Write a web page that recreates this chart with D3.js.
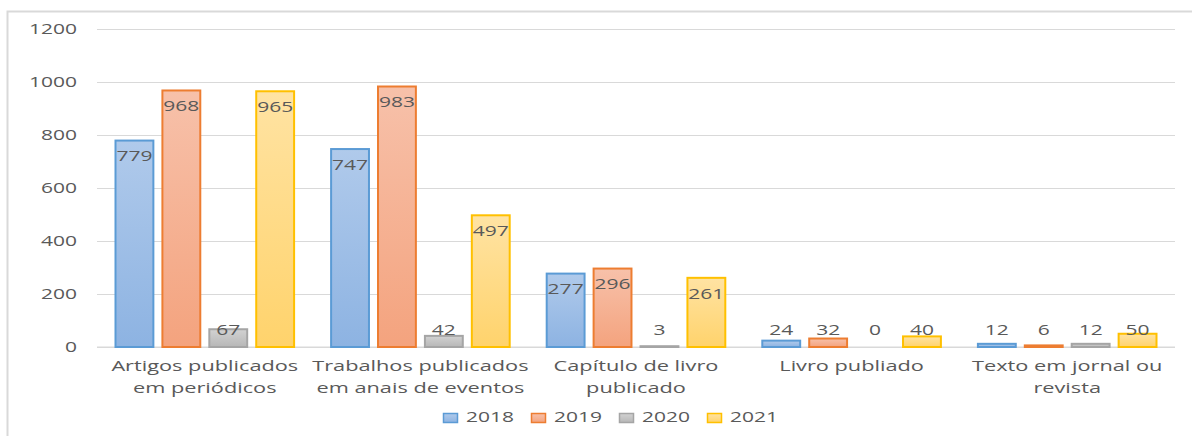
<!DOCTYPE html>
<html>
<head>
<meta charset="utf-8">
<script src="https://cdn.jsdelivr.net/npm/d3@7"></script>
<style>
  body { margin: 0; background: #fff; }
  svg { display: block; }
  text { font-family: "Open Sans", sans-serif; fill: #595959; }
</style>
</head>
<body>
<script>
// data
let categories = ["Artigos publicados em periódicos", "Trabalhos publicados em anais de eventos",
                  "Capítulo de livro publicado", "Livro publiado", "Texto em jornal ou revista"]
let labelLines = [["Artigos publicados", "em periódicos"], ["Trabalhos publicados", "em anais de eventos"],
                  ["Capítulo de livro", "publicado"], ["Livro publiado"], ["Texto em jornal ou", "revista"]]
let years = ["2018", "2019", "2020", "2021"]
let v2018 = [779, 747, 277, 24, 12]
let v2019 = [968, 983, 296, 32, 6]
let v2020 = [67, 42, 3, 0, 12]
let v2021 = [965, 497, 261, 40, 50]
let yTicks = [0, 200, 400, 600, 800, 1000, 1200]

let series = [v2018, v2019, v2020, v2021]
let colors = [
  {stroke: "#5B9BD5", top: "#B0CAEB", bottom: "#8DB3E2"},
  {stroke: "#ED7D31", top: "#F7C1AA", bottom: "#F4A37E"},
  {stroke: "#A5A5A5", top: "#D2D2D2", bottom: "#B7B7B7"},
  {stroke: "#FFC000", top: "#FFE3A3", bottom: "#FFD36C"}
]

let width = 1192
let height = 436
let sx = 1.45   // the picture's text is stretched sideways
let fs = 14.5

let svg = d3.select('body').append('svg')
    .attr('width', width)
    .attr('height', height)

let defs = svg.append('defs')
colors.forEach((c, i) => {
  let g = defs.append('linearGradient')
      .attr('id', 'grad' + i)
      .attr('x1', 0).attr('y1', 0).attr('x2', 0).attr('y2', 1)
  g.append('stop').attr('offset', '0%').attr('stop-color', c.top)
  g.append('stop').attr('offset', '100%').attr('stop-color', c.bottom)
})

// chart border
svg.append('rect')
    .attr('x', 7.5).attr('y', 11.5)
    .attr('width', width + 20).attr('height', height + 20)
    .attr('fill', 'none')
    .attr('stroke', '#D9D9D9')
    .attr('stroke-width', 2)

let x0 = d3.scaleBand()
    .domain(categories)
    .range([97, 1175])

let x1 = d3.scaleBand()
    .domain(years)
    .range([17.5, x0.bandwidth() - 17.5])
    .paddingInner(0.15)

let y = d3.scaleLinear()
    .domain([0, 1200])
    .range([347, 29])

// grid + y axis
let yAxis = d3.axisLeft(y)
    .tickValues(yTicks)
    .tickFormat(d3.format('d'))
    .tickSize(-(1175 - 97))
    .tickPadding(20)

let ga = svg.append('g')
    .attr('transform', 'translate(97,0)')
    .call(yAxis)
ga.select('.domain').remove()
ga.selectAll('.tick line').attr('stroke', '#D9D9D9').attr('stroke-width', 1)
ga.selectAll('.tick text')
    .attr('font-size', fs)
    .attr('fill', '#595959')
    .attr('font-family', null)
    .each(function() {
      let t = d3.select(this)
      let xx = +t.attr('x')
      t.attr('x', xx / sx).attr('transform', `scale(${sx},1)`)
    })

// baseline
svg.append('line')
    .attr('x1', 97).attr('x2', 1175)
    .attr('y1', y(0)).attr('y2', y(0))
    .attr('stroke', '#D9D9D9')

// bars
let groups = svg.selectAll('g.cat')
    .data(categories)
    .enter()
    .append('g')
    .attr('class', 'cat')
    .attr('transform', d => 'translate(' + x0(d) + ',0)')

groups.each(function(cat, ci) {
  let g = d3.select(this)
  years.forEach((yr, si) => {
    let val = series[si][ci]
    let top = y(val)
    if (val > 0) {
      g.append('rect')
          .attr('x', x1(yr) + 1)
          .attr('y', top)
          .attr('width', x1.bandwidth() - 2)
          .attr('height', y(0) - top)
          .attr('fill', 'url(#grad' + si + ')')
          .attr('stroke', colors[si].stroke)
          .attr('stroke-width', 2)
    }
    let ly = Math.min(top + 17, y(0) - 16)
    g.append('text')
        .attr('x', (x1(yr) + x1.bandwidth() / 2) / sx)
        .attr('y', ly)
        .attr('transform', `scale(${sx},1)`)
        .attr('text-anchor', 'middle')
        .attr('dominant-baseline', 'middle')
        .attr('font-size', fs)
        .attr('fill', '#7F7F7F')
        .text(val)
  })
})

// category labels
let cs = 1.5
groups.each(function(cat, ci) {
  let g = d3.select(this)
  let cx = x0.bandwidth() / 2
  labelLines[ci].forEach((line, li) => {
    g.append('text')
        .attr('x', cx / cs)
        .attr('y', 367 + li * 22)
        .attr('transform', `scale(${cs},1)`)
        .attr('text-anchor', 'middle')
        .attr('dominant-baseline', 'middle')
        .attr('font-size', fs)
        .text(line)
  })
})

// legend
let legend = svg.append('g')
    .attr('transform', 'translate(443,418)')
years.forEach((yr, i) => {
  let lg = legend.append('g').attr('transform', 'translate(' + (i * 88) + ',0)')
  lg.append('rect')
      .attr('x', 0.5).attr('y', -4.5)
      .attr('width', 14).attr('height', 9)
      .attr('fill', 'url(#grad' + i + ')')
      .attr('stroke', colors[i].stroke)
      .attr('stroke-width', 1.5)
  lg.append('text')
      .attr('x', 23 / sx)
      .attr('y', 0)
      .attr('transform', `scale(${sx},1)`)
      .attr('dominant-baseline', 'middle')
      .attr('font-size', fs)
      .text(yr)
})
</script>
</body>
</html>
